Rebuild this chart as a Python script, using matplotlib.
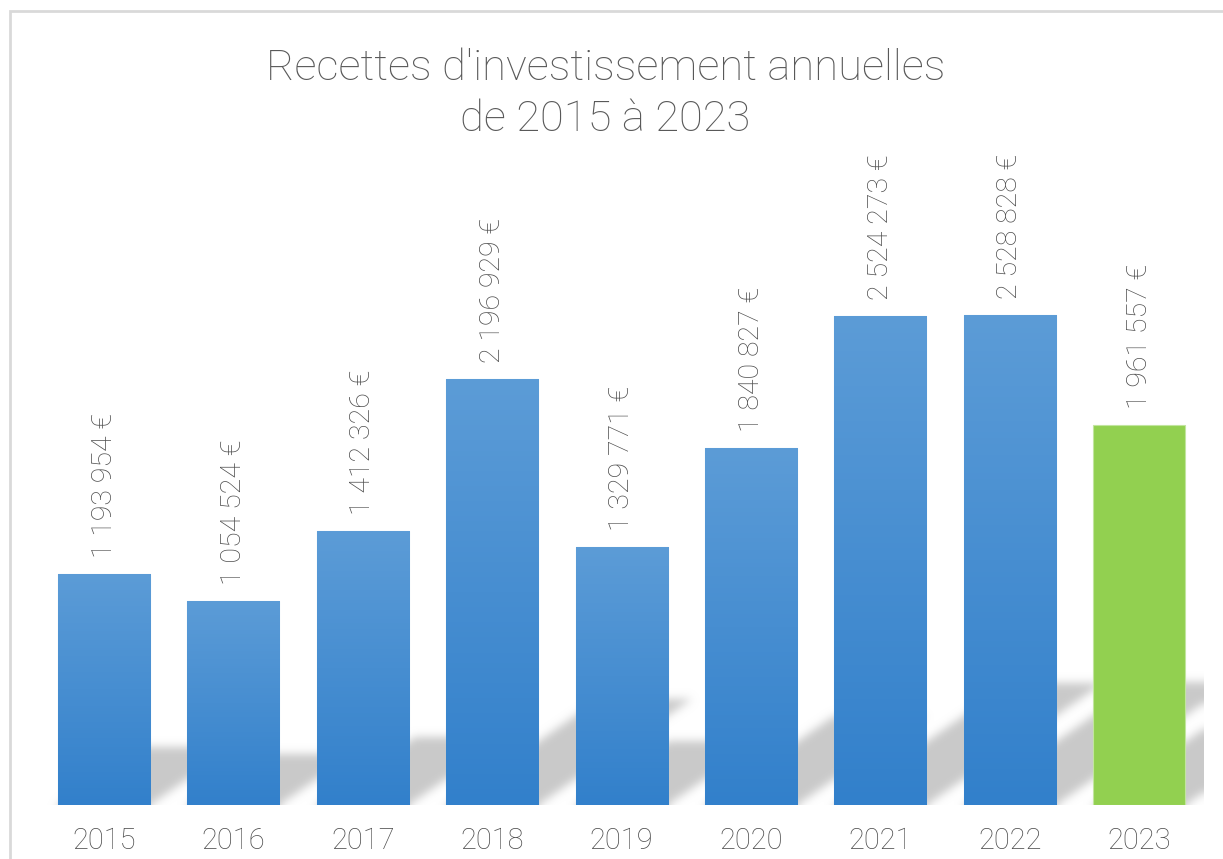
import numpy as np
import matplotlib
matplotlib.use("Agg")
import matplotlib.pyplot as plt
from matplotlib.patches import Rectangle

# data
years = ["2015", "2016", "2017", "2018", "2019", "2020", "2021", "2022", "2023"]
recettes = [1193954, 1054524, 1412326, 2196929, 1329771, 1840827, 2524273, 2528828, 1961557]
labels = ["1 193 954 €", "1 054 524 €", "1 412 326 €", "2 196 929 €", "1 329 771 €",
          "1 840 827 €", "2 524 273 €", "2 528 828 €", "1 961 557 €"]

plt.rcParams['font.family'] = ['Roboto', 'DejaVu Sans']

W, H = 1223, 859
fig = plt.figure(figsize=(W / 100, H / 100), dpi=100)

# axes placed in pixels
ax_l, ax_r, ax_b, ax_t = 39.3, 1204.0, 805.0, 150.0
ax = fig.add_axes([ax_l / W, (H - ax_b) / H, (ax_r - ax_l) / W, (ax_b - ax_t) / H])
eur_per_px = 2528828 / 490.0
ytop = (ax_b - ax_t) * eur_per_px
ax.set_xlim(-0.5, len(years) - 0.5)
ax.set_ylim(0, ytop)
px_per_x = (ax_r - ax_l) / len(years)

bar_w = 0.711
x = np.arange(len(years))

# blurred perspective shadow behind bars
nx, ny = int(ax_r - ax_l), int(ax_b - ax_t)
gx = (np.arange(nx) + 0.5) / nx * len(years) - 0.5
gy = (np.arange(ny) + 0.5) / ny * ytop
XX, YY = np.meshgrid(gx, gy)
mask = np.zeros_like(XX)
for xi, v in zip(x, recettes):
    h = 0.25 * v
    dx = 1.45 * (h / eur_per_px) / px_per_x
    s = dx * YY / h
    inside = (YY <= h) & (XX >= xi - bar_w / 2 + s) & (XX <= xi + bar_w / 2 + s)
    mask[inside] = 1.0

def blur(a, sigma):
    r = int(3 * sigma)
    k = np.exp(-0.5 * (np.arange(-r, r + 1) / sigma) ** 2)
    k /= k.sum()
    a = np.apply_along_axis(lambda m: np.convolve(np.pad(m, r, mode='edge'), k, mode='valid'), 0, a)
    a = np.apply_along_axis(lambda m: np.convolve(np.pad(m, r, mode='edge'), k, mode='valid'), 1, a)
    return a

mask = blur(mask, 4.5)
shadow = np.zeros((ny, nx, 4))
shadow[..., :3] = 0.79
shadow[..., 3] = np.clip(mask, 0, 1)
ax.imshow(shadow, origin='lower', extent=(-0.5, len(years) - 0.5, 0, ytop),
          aspect='auto', zorder=1, interpolation='bilinear')

# bars
top_blue = np.array([0x5c, 0x9c, 0xd7]) / 255
bot_blue = np.array([0x32, 0x80, 0xcb]) / 255
for i, (xi, v) in enumerate(zip(x, recettes)):
    if i == len(years) - 1:
        ax.bar(xi, v, width=bar_w, color='#92d050', edgecolor='#c2e59f', linewidth=0.8, zorder=3)
        continue
    b = ax.bar(xi, v, width=bar_w, color=bot_blue, edgecolor='#a9cbec', linewidth=0.8, zorder=3)[0]
    t = np.linspace(0, 1, 256)[:, None]
    grad = (bot_blue[None, :] * (1 - t) + top_blue[None, :] * t)[:, None, :]
    im = ax.imshow(grad, origin='lower', extent=(xi - bar_w / 2, xi + bar_w / 2, 0, v),
                   aspect='auto', zorder=3.5, interpolation='bilinear')
    im.set_clip_path(b)

for xi, v, lab in zip(x, recettes, labels):
    ax.annotate(lab, (xi, v), xytext=(0, 11.5), textcoords='offset points',
                rotation=90, ha='center', va='bottom', fontsize=20.5,
                fontweight='light', color='#4d4d4d')

ax.set_xticks(x)
ax.set_xticklabels(years, fontsize=21, fontweight='light', color='#4d4d4d')
ax.tick_params(axis='x', length=0, pad=15.5)
ax.set_yticks([])
for sp in ax.spines.values():
    sp.set_visible(False)

fig.text(605.5 / W, 1 - 80 / H, "Recettes d'investissement annuelles", ha='center',
         va='baseline', fontsize=31.3, fontweight='light', color='#595959')
fig.text(605.5 / W, 1 - 131 / H, "de 2015 à 2023", ha='center',
         va='baseline', fontsize=31.3, fontweight='light', color='#595959')

# chart frame
fig.patches.append(Rectangle((10 / W, -0.2), 1.5, 1.2 - 11 / H, transform=fig.transFigure,
                             fill=False, edgecolor='#d9d9d9', linewidth=2, clip_on=False))

fig.savefig("out.png", dpi=100)
